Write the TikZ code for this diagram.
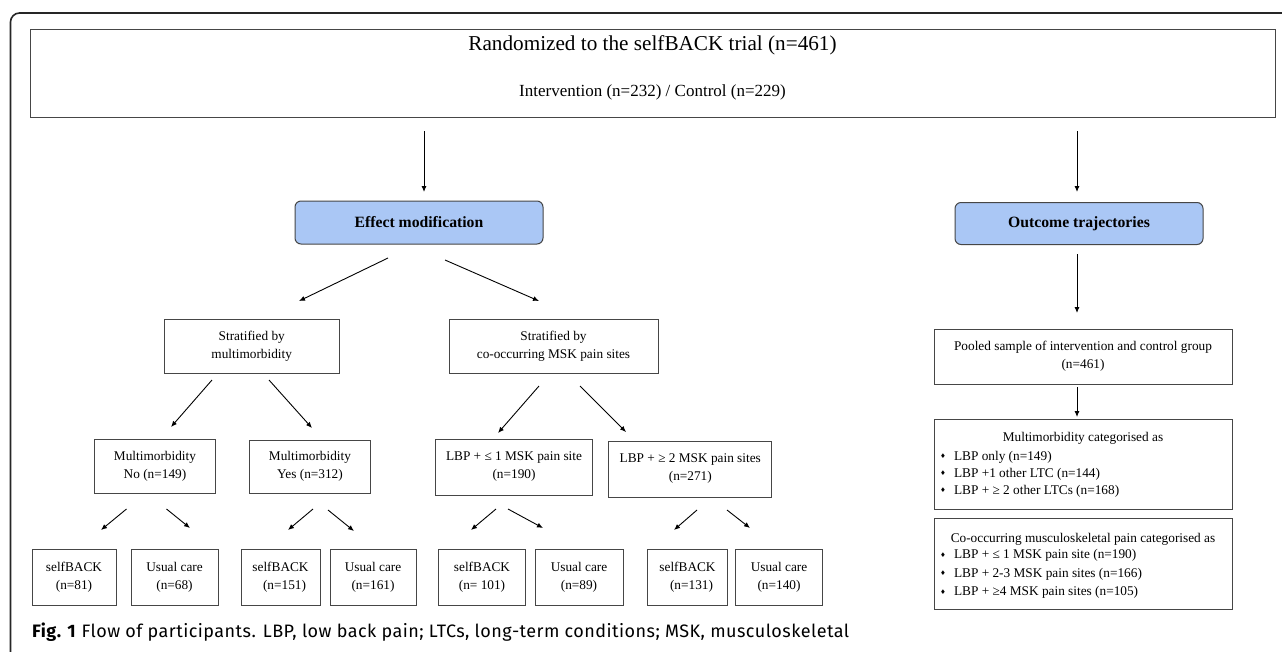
\documentclass[tikz,border=0pt]{standalone}
\usepackage{fontspec}
\setmainfont{Liberation Serif}
\newfontfamily\capfont[LetterSpace=2.6]{Fira Sans}
\newfontfamily\djv{DejaVu Sans}
\usetikzlibrary{arrows.meta}
\definecolor{boxgray}{RGB}{70,70,70}
\definecolor{headblue}{RGB}{170,199,245}
\newcommand{\bul}{\raisebox{1.5pt}{\djv\fontsize{6.5}{6.5}\selectfont ♦}\hspace{8pt}}
\tikzset{
  box/.style={draw=boxgray, line width=1pt, inner sep=0pt, align=center,
    font=\fontsize{13.3}{18}\selectfont},
  headbox/.style={draw=boxgray, line width=1pt, fill=headblue, rounded corners=6pt,
    inner sep=0pt, font=\fontsize{15.7}{18}\selectfont\bfseries},
  arr/.style={draw=black, line width=0.9pt, -{Latex[length=6pt,width=5pt]}},
  txt/.style={inner sep=0pt, font=\fontsize{13.3}{17}\selectfont},
}
\begin{document}
\begin{tikzpicture}[x=1pt,y=-1pt]
\useasboundingbox (0,0) rectangle (1282,651);
\fill[white] (0,0) rectangle (1282,651);
% outer frame
\draw[line width=1.6pt, draw=black!85, rounded corners=9pt] (1300,13) -- (10.5,13) -- (10.5,680);

% top box
\node[box, minimum width=1245pt, minimum height=88pt] (top) at (652.5,73) {};
\node[inner sep=0pt, font=\fontsize{21.2}{24}\selectfont] (title) at (652.5,45) {Randomized to the selfBACK trial (n=461)};
\node[inner sep=0pt, font=\fontsize{17}{20}\selectfont] (subtitle) at (652.5,92) {Intervention (n=232) / Control (n=229)};

% header boxes
\node[headbox, minimum width=248pt, minimum height=43pt] (effect) at (419,222.5) {Effect modification};
\node[headbox, minimum width=248pt, minimum height=42pt] (outcome) at (1079,223.5) {Outcome trajectories};

% level 2
\node[box, minimum width=175.5pt, minimum height=54pt] (smulti) at (251.75,346) {Stratified by\\multimorbidity};
\node[box, minimum width=209pt, minimum height=54pt] (sco) at (553.5,346) {Stratified by\\co-occurring MSK pain sites};

% level 3
\node[box, minimum width=121pt, minimum height=54pt] (mno) at (155,466) {Multimorbidity\\No (n=149)};
\node[box, minimum width=121pt, minimum height=53pt] (myes) at (310,466.5) {Multimorbidity\\Yes (n=312)};
\node[box, minimum width=157pt, minimum height=56pt] (lle) at (514,467) {LBP + ≤ 1 MSK pain site\\(n=190)};
\node[box, minimum width=163pt, minimum height=56pt] (lge) at (690.3,469) {LBP + ≥ 2 MSK pain sites\\(n=271)};

% level 4
\node[box, minimum width=84pt, minimum height=56pt] (sb81) at (74,577) {selfBACK\\(n=81)};
\node[box, minimum width=87pt, minimum height=56pt] (uc68) at (174.5,577) {Usual care\\(n=68)};
\node[box, minimum width=79pt, minimum height=56pt] (sb151) at (280.5,577) {selfBACK\\\hspace{8pt}(n=151)};
\node[box, minimum width=86pt, minimum height=56pt] (uc161) at (373,577) {Usual care\\(n=161)};
\node[box, minimum width=86.5pt, minimum height=56pt] (sb101) at (482,577) {selfBACK\\(n= 101)};
\node[box, minimum width=88pt, minimum height=56pt] (uc89) at (579,577) {Usual care\\(n=89)};
\node[box, minimum width=80pt, minimum height=56pt] (sb131) at (687.5,577) {selfBACK\\\hspace{8pt}(n=131)};
\node[box, minimum width=87.5pt, minimum height=56pt] (uc140) at (779,577) {Usual care\\(n=140)};

% right column
\node[box, minimum width=298pt, minimum height=55pt] (pooled) at (1083,356.5) {Pooled sample of intervention and control group\\(n=461)};
\node[box, minimum width=298pt, minimum height=90pt] (mcat) at (1083,464) {};
\node[txt] (mcathead) at (1083,438) {Multimorbidity categorised as};
\node[txt, anchor=west, align=left] (mcatlist) at (940,474) {\bul LBP only (n=149)\\\bul LBP +1 other LTC (n=144)\\\bul LBP + ≥ 2 other LTCs (n=168)};
\node[box, minimum width=298pt, minimum height=91pt] (ccat) at (1083,563.5) {};
\node[txt] (ccathead) at (1083,539) {Co-occurring musculoskeletal pain categorised as};
\node[txt, font=\fontsize{13.3}{18.5}\selectfont, anchor=west, align=left] (ccatlist) at (940,574) {\bul LBP + ≤ 1 MSK pain site (n=190)\\\bul LBP + 2-3 MSK pain sites (n=166)\\\bul LBP + ≥4 MSK pain sites (n=105)};

% caption
\node[inner sep=0pt, anchor=base west, font=\capfont\fontsize{18}{20}\selectfont] (caption) at (32,637) {\textbf{Fig. 1} Flow of participants. LBP, low back pain; LTCs, long-term conditions; MSK, musculoskeletal};

% arrow end coordinates
\coordinate (a1s) at (424,131); \coordinate (a1e) at (424,192);
\coordinate (a2s) at (1077,131); \coordinate (a2e) at (1077,192);
\coordinate (b1s) at (388,258); \coordinate (b1e) at (299,301);
\coordinate (b2s) at (445,260); \coordinate (b2e) at (539,301);
\coordinate (c1s) at (212,380); \coordinate (c1e) at (171,427);
\coordinate (c2s) at (269,380); \coordinate (c2e) at (312,428);
\coordinate (c3s) at (539,386); \coordinate (c3e) at (498,433);
\coordinate (c4s) at (580,386); \coordinate (c4e) at (626,432);
\coordinate (d1s) at (126.5,509); \coordinate (d1e) at (101,530);
\coordinate (d2s) at (166.5,509); \coordinate (d2e) at (190,528);
\coordinate (d3s) at (313,509); \coordinate (d3e) at (288,530);
\coordinate (d4s) at (328,510); \coordinate (d4e) at (354,531);
\coordinate (d5s) at (496,509); \coordinate (d5e) at (471,530);
\coordinate (d6s) at (508,509); \coordinate (d6e) at (543,528);
\coordinate (d7s) at (697,510); \coordinate (d7e) at (674,530);
\coordinate (d8s) at (727,510); \coordinate (d8e) at (750,528);
\coordinate (e1s) at (1077,254); \coordinate (e1e) at (1077,313);
\coordinate (e2s) at (1077,387); \coordinate (e2e) at (1077,417);

\foreach \a in {a1,a2,b1,b2,c1,c2,c3,c4,d1,d2,d3,d4,d5,d6,d7,d8,e1,e2}
  \draw[arr] (\a s) -- (\a e);
\end{tikzpicture}
\end{document}
